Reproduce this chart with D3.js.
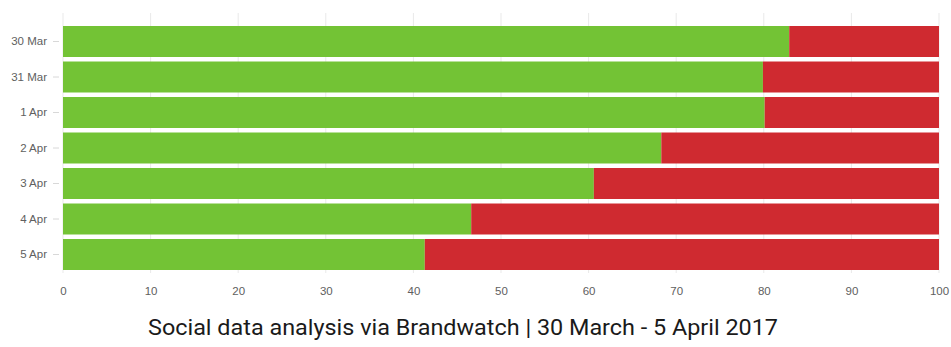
<!DOCTYPE html>
<html>
<head>
<meta charset="utf-8">
<script src="https://cdn.jsdelivr.net/npm/d3@7"></script>
<style>
  html, body { margin: 0; padding: 0; background: #fff; }
  svg { display: block; }
</style>
</head>
<body>
<svg id="chart" width="951" height="347"></svg>
<script>
// Daily sentiment split (percent of mentions)
const days = ["30 Mar", "31 Mar", "1 Apr", "2 Apr", "3 Apr", "4 Apr", "5 Apr"];
const positive = [82.9, 79.9, 80.1, 68.3, 60.6, 46.6, 41.3];
const negative = positive.map(v => 100 - v);
const xTicks = [0, 10, 20, 30, 40, 50, 60, 70, 80, 90, 100];
const caption = "Social data analysis via Brandwatch | 30 March - 5 April 2017";

const colors = { positive: "#73c335", negative: "#cf2a30" };

const svg = d3.select("#chart");
const plot = { left: 63, right: 939, top: 13, bottom: 273 };

const x = d3.scaleLinear().domain([0, 100]).range([plot.left, plot.right]);
const y = d3.scaleBand().domain(days)
  .range([23.75, 272.25])
  .paddingInner(0.127)
  .paddingOuter(0.0635);

// vertical grid
svg.append("g").selectAll("line").data(xTicks).join("line")
  .attr("x1", d => x(d)).attr("x2", d => x(d))
  .attr("y1", plot.top).attr("y2", plot.bottom)
  .attr("stroke", "#e9e9e9").attr("stroke-width", 1);

// stacked bars
const rows = days.map((d, i) => ({ day: d, pos: positive[i], neg: negative[i] }));
const bars = svg.append("g");
bars.selectAll("rect.pos").data(rows).join("rect")
  .attr("class", "pos")
  .attr("x", x(0))
  .attr("y", d => y(d.day))
  .attr("width", d => x(d.pos) - x(0))
  .attr("height", y.bandwidth())
  .attr("fill", colors.positive);
bars.selectAll("rect.neg").data(rows).join("rect")
  .attr("class", "neg")
  .attr("x", d => x(d.pos))
  .attr("y", d => y(d.day))
  .attr("width", d => x(d.pos + d.neg) - x(d.pos))
  .attr("height", y.bandwidth())
  .attr("fill", colors.negative);

// category axis
const yAxis = svg.append("g")
  .attr("transform", `translate(${plot.left - 4},0)`)
  .call(d3.axisLeft(y).tickSize(6).tickPadding(6));
yAxis.select(".domain").remove();
yAxis.selectAll(".tick line").attr("stroke", "#d8d8d8");
yAxis.selectAll(".tick text")
  .attr("fill", "#606060")
  .style("font-family", "'Liberation Sans', Arial, sans-serif")
  .style("font-size", "11.5px");

// value axis
const xAxis = svg.append("g")
  .attr("transform", `translate(0,${plot.bottom})`)
  .call(d3.axisBottom(x).tickValues(xTicks).tickSize(0).tickPadding(14));
xAxis.select(".domain").remove();
xAxis.selectAll(".tick text")
  .attr("fill", "#606060")
  .style("font-family", "'Liberation Sans', Arial, sans-serif")
  .style("font-size", "11.5px");

// caption
svg.append("text")
  .attr("x", 463).attr("y", 335)
  .attr("text-anchor", "middle")
  .attr("textLength", 630)
  .attr("lengthAdjust", "spacingAndGlyphs")
  .attr("fill", "#1a1a1a")
  .style("font-family", "Roboto, sans-serif")
  .style("font-size", "22.5px")
  .text(caption);
</script>
</body>
</html>
